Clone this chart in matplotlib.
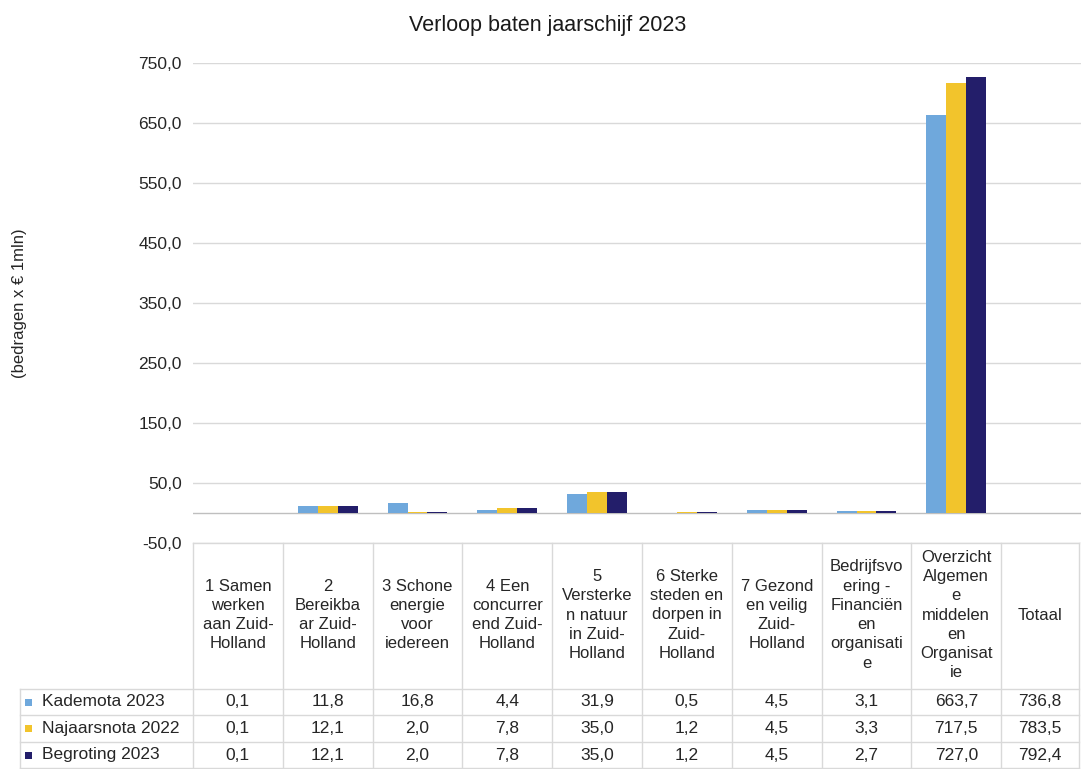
import matplotlib
matplotlib.use("Agg")
import matplotlib.pyplot as plt
from matplotlib.transforms import blended_transform_factory
from matplotlib.patches import Rectangle
from matplotlib.lines import Line2D
import numpy as np

plt.rcParams['font.family'] = ['Liberation Sans', 'DejaVu Sans']

title = "Verloop baten jaarschijf 2023"
ylabel = "(bedragen x € 1mln)"
categories = [
    "1 Samen\nwerken\naan Zuid-\nHolland",
    "2\nBereikba\nar Zuid-\nHolland",
    "3 Schone\nenergie\nvoor\niedereen",
    "4 Een\nconcurrer\nend Zuid-\nHolland",
    "5\nVersterke\nn natuur\nin Zuid-\nHolland",
    "6 Sterke\nsteden en\ndorpen in\nZuid-\nHolland",
    "7 Gezond\nen veilig\nZuid-\nHolland",
    "Bedrijfsvo\nering -\nFinanciën\nen\norganisati\ne",
    "Overzicht\nAlgemen\ne\nmiddelen\nen\nOrganisat\nie",
    "Totaal",
]
series_names = ["Kademota 2023", "Najaarsnota 2022", "Begroting 2023"]
kademota = [0.1, 11.8, 16.8, 4.4, 31.9, 0.5, 4.5, 3.1, 663.7, 736.8]
najaarsnota = [0.1, 12.1, 2.0, 7.8, 35.0, 1.2, 4.5, 3.3, 717.5, 783.5]
begroting = [0.1, 12.1, 2.0, 7.8, 35.0, 1.2, 4.5, 2.7, 727.0, 792.4]
# The Totaal column is shown only in the data table, not as bars
n_bar_categories = 9
colors = ["#6FA8DC", "#F2C42C", "#231E6A"]
yticks = [-50, 50, 150, 250, 350, 450, 550, 650, 750]

W, H = 1081, 769
fig = plt.figure(figsize=(W / 100, H / 100), dpi=100)

def fx(px):
    return px / W

def fy(py):
    return 1 - py / H

left_px, right_px = 193, 1091
table_right_px = 1079
top_px, bot_px = 63, 543
ax = fig.add_axes([fx(left_px), fy(bot_px), fx(right_px - left_px), (bot_px - top_px) / H])

series = [kademota, najaarsnota, begroting]
n = len(categories)
x = np.arange(n)
bw = 0.222
for i, (vals, c) in enumerate(zip(series, colors)):
    ax.bar(x[:n_bar_categories] + (i - 1) * bw, vals[:n_bar_categories], width=bw, color=c, zorder=3)

ax.set_xlim(-0.5, n - 0.5)
ax.set_ylim(-50, 750)
ax.set_yticks(yticks)
ax.set_yticklabels([f"{v:.1f}".replace(".", ",") for v in yticks], fontsize=12.5, color="#262626")
ax.tick_params(axis="y", length=0, pad=8)
ax.set_xticks([])
for s in ax.spines.values():
    s.set_visible(False)
ax.grid(axis="y", color="#D9D9D9", linewidth=1.0, zorder=0)
ax.axhline(0, color="#BFBFBF", linewidth=1.0, zorder=2)

fig.text(fx(548), fy(25), title, ha="center", va="center", fontsize=15.5, color="#1a1a1a")
fig.text(fx(20), (fy(top_px) + fy(bot_px)) / 2, ylabel, rotation=90, ha="center", va="center",
         fontsize=12, color="#262626")

# Data table
tr = blended_transform_factory(ax.transData, fig.transFigure)
col_w_px = (right_px - left_px) / n
x_table_right = (n - 0.5) - (right_px - table_right_px) / col_w_px
grid_c = "#D9D9D9"
header_bot = 689
row_lines = [689, 715, 742, 768]
table_bot = 768
fig.add_artist(Line2D([fx(left_px), fx(table_right_px)], [fy(bot_px), fy(bot_px)],
                      transform=fig.transFigure, color=grid_c, lw=1.0))
vlines = [k - 0.5 for k in range(n)] + [x_table_right]
for xv in vlines:
    fig.add_artist(Line2D([xv, xv], [fy(bot_px), fy(table_bot)], transform=tr, color=grid_c, lw=1.0))
for yl in row_lines:
    fig.add_artist(Line2D([fx(20), fx(table_right_px)], [fy(yl), fy(yl)], transform=fig.transFigure,
                          color=grid_c, lw=1.0))
fig.add_artist(Line2D([fx(20), fx(20)], [fy(header_bot), fy(table_bot)], transform=fig.transFigure,
                      color=grid_c, lw=1.0))

col_centers = [(vlines[k] + vlines[k + 1]) / 2 for k in range(n)]
for k, lab in enumerate(categories):
    fig.text(col_centers[k], fy((bot_px + header_bot) / 2 - 1), lab, transform=tr, ha="center",
             va="center", fontsize=12, color="#262626", linespacing=1.35, multialignment="center")

for r, (name, vals, c) in enumerate(zip(series_names, series, colors)):
    yc = fy((row_lines[r] + row_lines[r + 1]) / 2)
    fig.add_artist(Rectangle((fx(25), yc - 3.5 / H), 7 / W, 7 / H, transform=fig.transFigure,
                             facecolor=c, edgecolor="none"))
    fig.text(fx(42), yc, name, ha="left", va="center", fontsize=12.5, color="#262626")
    for k, v in enumerate(vals):
        fig.text(col_centers[k], yc, f"{v:.1f}".replace(".", ","), transform=tr, ha="center",
                 va="center", fontsize=12.5, color="#262626")

fig.savefig("out.png", dpi=100)
